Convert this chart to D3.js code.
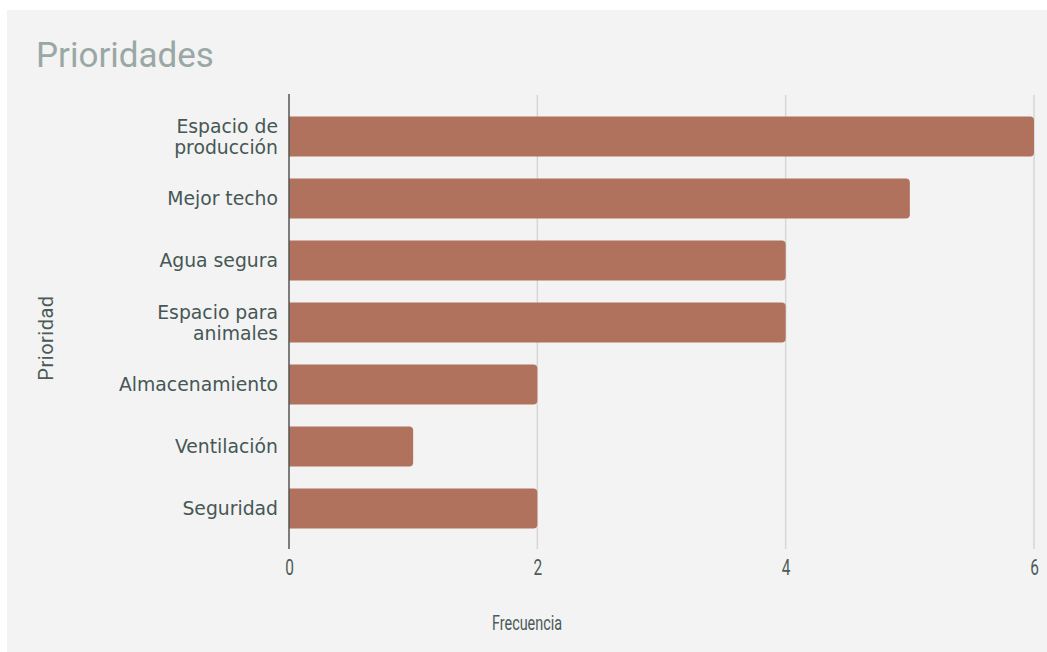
<!DOCTYPE html>
<html><head><meta charset="utf-8">
<script src="https://cdn.jsdelivr.net/npm/d3@7"></script>
<style>body{margin:0;background:#fff}svg{display:block}</style>
</head><body>
<svg id="c" width="1047" height="652"></svg>
<script>
const categories = [["Espacio de","producción"],["Mejor techo"],["Agua segura"],["Espacio para","animales"],["Almacenamiento"],["Ventilación"],["Seguridad"]];
const values = [6,5,4,4,2,1,2];
const xTicks = [0,2,4,6];
const title = "Prioridades";
const xTitle = "Frecuencia";
const yTitle = "Prioridad";

const svg = d3.select("#c");
svg.append("rect").attr("x",7).attr("y",10).attr("width",1040).attr("height",642).attr("fill","#f3f3f3");

const keys = categories.map(c=>c.join(" "));
const x = d3.scaleLinear().domain([0,6]).range([289,1034]);
const y = d3.scaleBand().domain(keys).range([96,549]).paddingInner(0.355).paddingOuter(0.33);

// gridlines
svg.append("g").selectAll("line").data(xTicks.slice(1)).join("line")
  .attr("x1",d=>x(d)).attr("x2",d=>x(d)).attr("y1",95).attr("y2",549)
  .attr("stroke","#d6d6d6").attr("stroke-width",1.5);

// bars with rounded right end
const r = 4;
svg.append("g").selectAll("path").data(values).join("path")
  .attr("fill","#b0725c")
  .attr("d",(d,i)=>{
    const x0=x(0), x1=x(d), y0=y(keys[i]), h=y.bandwidth();
    return `M${x0},${y0}H${x1-r}Q${x1},${y0} ${x1},${y0+r}V${y0+h-r}Q${x1},${y0+h} ${x1-r},${y0+h}H${x0}Z`;
  });

// baseline
svg.append("line").attr("x1",x(0)).attr("x2",x(0)).attr("y1",94).attr("y2",549)
  .attr("stroke","#555").attr("stroke-width",1.5);

// x axis
const xa = svg.append("g").attr("transform","translate(0,549)")
  .call(d3.axisBottom(x).tickValues(xTicks).tickFormat(d3.format("d")).tickSize(0).tickPadding(10));
xa.select(".domain").remove();
xa.selectAll("text").attr("font-family","Roboto, Arial, sans-serif").attr("font-size",22)
  .attr("fill","#4c5b59").attr("transform","scale(0.7,1)");

// y labels
const yl = svg.append("g");
categories.forEach((lines,i)=>{
  const cy = y(keys[i]) + y.bandwidth()/2;
  const lh = 21;
  const t = yl.append("text").attr("text-anchor","end")
    .attr("font-family","DejaVu Sans, Verdana, sans-serif").attr("font-size",18.8).attr("fill","#465755");
  lines.forEach((ln,j)=>{
    t.append("tspan").attr("x",278).attr("y", cy + (j-(lines.length-1)/2)*lh).attr("dy","0.35em").text(ln);
  });
});

// titles
svg.append("text").attr("x",36).attr("y",67).attr("font-family","Roboto, Arial, sans-serif")
  .attr("font-size",35).attr("fill","#9aa8a5").text(title);
svg.append("text").attr("text-anchor","middle").attr("transform","translate(527,630) scale(0.72,1)")
  .attr("font-family","Roboto, Arial, sans-serif").attr("font-size",20).attr("fill","#4c5b59").text(xTitle);
svg.append("text").attr("text-anchor","middle").attr("transform","translate(53,338) rotate(-90)")
  .attr("font-family","Roboto, Arial, sans-serif").attr("font-size",20).attr("letter-spacing",0.5).attr("fill","#4c5b59").text(yTitle);
</script>
</body></html>
